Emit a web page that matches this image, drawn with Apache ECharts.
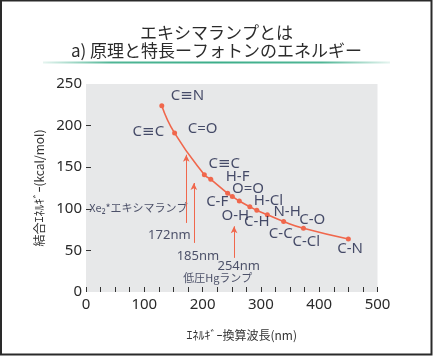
<!DOCTYPE html>
<html>
<head>
<meta charset="utf-8">
<script src="https://cdn.jsdelivr.net/npm/echarts@6/dist/echarts.min.js"></script>
<style>
html,body{margin:0;padding:0;background:#fff;}
#chart{width:433px;height:356px;}
</style>
</head>
<body>
<div id="chart"></div>
<script>
// ---- data ----
var titleText = 'エキシマランプとは\na) 原理と特長ーフォトンのエネルギー';
var xAxisName = 'ｴﾈﾙｷﾞｰ換算波長(nm)';
var yAxisName = '結合ｴﾈﾙｷﾞｰ(kcal/mol)';
var xTickLabels = [0, 100, 200, 300, 400, 500];
var yTickLabels = [0, 50, 100, 150, 200, 250];
var yTickMarks = [50, 100, 150, 200];

// bond-energy curve (wavelength nm, energy kcal/mol)
var curveWavelength = [130, 152, 203, 214, 243, 251, 263, 281, 293, 311, 339, 373, 450];
var curveEnergy     = [224, 191, 141, 135.5, 118.6, 114.8, 109.4, 102.5, 98.2, 92.9, 84.7, 76.6, 63.7];

// bond names anchored in data units
var bondNames = ['C≡N', 'C≡C', 'C=O', 'C≡C', 'H-F', 'O=O', 'C-F', 'H-Cl', 'O-H', 'C-H', 'N-H', 'C-O', 'C-C', 'C-Cl', 'C-N'];
var bondNameX = [174, 107, 200, 237, 260, 278, 225, 313, 256, 293, 345, 388, 334, 378, 453];
var bondNameY = [236, 193, 196, 154, 138, 124, 108, 110, 92, 84.5, 96.5, 86.5, 70, 60, 52];

// lamp wavelengths with arrows (energy range of the arrow)
var lampWavelength = [172, 185, 254];
var arrowFrom = [83, 59, 41];
var arrowTo = [165, 131, 79];

// lamp names anchored in data units
var lampNames = ['Xe₂*エキシマランプ', '低圧Hgランプ'];
var lampNameX = [90, 226];
var lampNameY = [101, 16.8];

// wavelength labels anchored in data units
var waveLabels = ['172nm', '185nm', '254nm'];
var waveLabelX = [143, 192, 262];
var waveLabelY = [68.5, 43.3, 31.3];

// ---- build ----
var curveData = curveWavelength.map(function (w, i) { return [w, curveEnergy[i]]; });
var bondData = bondNames.map(function (n, i) { return [bondNameX[i], bondNameY[i], n]; });
var lampData = lampNames.map(function (t, i) { return [lampNameX[i], lampNameY[i], t]; });
var waveData = waveLabels.map(function (t, i) { return [waveLabelX[i], waveLabelY[i], t]; });
var arrowData = lampWavelength.map(function (w, i) {
  return [{ coord: [w, arrowFrom[i]] }, { coord: [w, arrowTo[i]] }];
});

var accent = '#f0674c';
var textNavy = '#1c2246';

function textSeries(data, size, family, color) {
  return {
    type: 'scatter',
    data: data,
    symbolSize: 0,
    silent: true,
    z: 4,
    label: {
      show: true,
      position: 'inside',
      formatter: function (p) { return p.data[2]; },
      fontFamily: family,
      fontSize: size,
      color: color
    }
  };
}

var chart = echarts.init(document.getElementById('chart'), null, { renderer: 'canvas' });
chart.setOption({
  animation: false,
  backgroundColor: '#ffffff',
  title: {
    text: titleText,
    left: 'center',
    top: 18,
    textStyle: {
      fontFamily: '"Noto Sans CJK JP", "Noto Sans", sans-serif',
      fontSize: 17,
      fontWeight: 'normal',
      color: '#2b2b2b',
      lineHeight: 18.5
    }
  },
  graphic: [
    {
      type: 'rect',
      shape: { x: 1, y: 0.5, width: 430.5, height: 354 },
      style: { fill: 'none', stroke: '#2a2a2a', lineWidth: 2 },
      silent: true
    },
    {
      type: 'line',
      shape: { x1: 43, y1: 62.5, x2: 390, y2: 62.5 },
      style: {
        lineWidth: 2,
        stroke: new echarts.graphic.LinearGradient(0, 0, 1, 0, [
          { offset: 0, color: 'rgba(61,174,138,0.1)' },
          { offset: 0.2, color: 'rgba(61,174,138,0.9)' },
          { offset: 0.5, color: 'rgba(61,174,138,1)' },
          { offset: 0.8, color: 'rgba(61,174,138,0.9)' },
          { offset: 1, color: 'rgba(61,174,138,0.1)' }
        ])
      },
      silent: true
    }
  ],
  grid: {
    left: 86,
    right: 55.5,
    top: 84,
    bottom: 64,
    show: true,
    backgroundColor: '#e7e8e9',
    borderWidth: 0
  },
  xAxis: {
    type: 'value',
    min: xTickLabels[0],
    max: xTickLabels[xTickLabels.length - 1],
    interval: xTickLabels[1] - xTickLabels[0],
    name: xAxisName,
    nameLocation: 'middle',
    nameGap: 37,
    nameTextStyle: {
      fontFamily: '"Noto Sans CJK JP", sans-serif',
      fontSize: 12,
      color: '#333',
      padding: [0, 0, 0, 20]
    },
    axisLine: { show: false },
    axisTick: { show: true, inside: true, length: 5, lineStyle: { color: '#333', width: 1 } },
    minorTick: { show: true, splitNumber: 4, length: 5, lineStyle: { color: '#333', width: 1 } },
    splitLine: { show: false },
    axisLabel: {
      margin: 5,
      fontFamily: '"Noto Sans", sans-serif',
      fontSize: 15,
      color: '#2a2a2a'
    }
  },
  yAxis: {
    type: 'value',
    min: yTickLabels[0],
    max: yTickLabels[yTickLabels.length - 1],
    interval: yTickLabels[1] - yTickLabels[0],
    name: yAxisName,
    nameLocation: 'middle',
    nameGap: 39,
    nameRotate: 90,
    nameTextStyle: {
      fontFamily: '"Noto Sans CJK JP", sans-serif',
      fontSize: 12,
      color: '#333'
    },
    axisLine: { show: false },
    axisTick: { show: true, inside: true, length: 5, customValues: yTickMarks, lineStyle: { color: '#333', width: 1 } },
    splitLine: { show: false },
    axisLabel: {
      margin: 4,
      fontFamily: '"Noto Sans", sans-serif',
      fontSize: 15,
      color: '#2a2a2a'
    }
  },
  series: [
    {
      type: 'line',
      data: curveData,
      smooth: true,
      symbol: 'circle',
      symbolSize: 5,
      itemStyle: { color: accent },
      lineStyle: { color: accent, width: 1.6 },
      silent: true,
      z: 3,
      markLine: {
        silent: true,
        symbol: ['none', 'arrow'],
        symbolSize: [5, 7],
        label: { show: false },
        lineStyle: { color: accent, width: 1, type: 'solid' },
        data: arrowData
      }
    },
    textSeries(bondData, 15, '"Noto Sans", "DejaVu Sans", sans-serif', textNavy),
    textSeries(lampData, 11, '"Noto Sans CJK JP", "Noto Sans", sans-serif', '#262b48'),
    textSeries(waveData, 13, '"Noto Sans", sans-serif', '#262b48')
  ]
});
</script>
</body>
</html>
